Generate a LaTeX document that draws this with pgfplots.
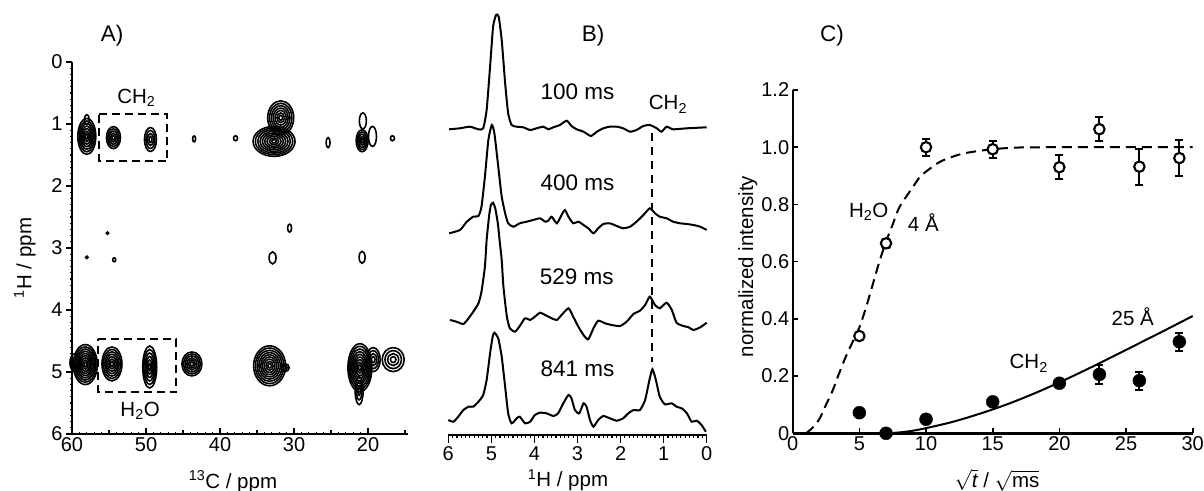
\documentclass[border=0pt]{standalone}
\usepackage{pgfplots}
\pgfplotsset{compat=1.18}
\usepackage{pgfplotstable}
\usepackage{fontspec}
\setmainfont{Liberation Sans}

\newcommand{\fs}{\fontsize{20}{23}\selectfont}
\newcommand{\fa}{\fontsize{20.5}{24}\selectfont}
\newcommand{\fl}{\fontsize{22.5}{26}\selectfont}

% contour-like mark: nested ellipses
\pgfdeclareplotmark{peak}{%
  \pgfmathtruncatemacro\nl{\nlev}%
  \foreach \k in {1,...,\nl}{%
    \pgfmathsetlengthmacro\ax{(1-(\k-1)/\nl)*\rx*1pt}%
    \pgfmathsetlengthmacro\ay{(1-(\k-1)/\nl)*\ry*1pt}%
    \pgfpathellipse{\pgfpointorigin}{\pgfqpoint{\ax}{0pt}}{\pgfqpoint{0pt}{\ay}}%
    \pgfusepath{stroke}%
  }%
}

% Panel A peaks: 13C ppm, 1H ppm, half width (pt), half height (pt), levels
\pgfplotstableread{
c h rx ry n
58.0 1.20 9 18 7
58.0 0.93 2.5 5 1
54.4 1.22 7 11 5
49.4 1.25 6 12 4
43.5 1.24 1.5 3 1
37.9 1.23 2 2.5 1
31.8 0.90 13 17 7
32.7 1.28 21 15 9
25.4 1.30 2 5 1
20.8 1.27 6 11 5
20.7 0.95 3.5 8 1
19.4 1.20 4 10 1
16.7 1.23 2 2.5 1
55.2 2.76 1.2 1.2 1
30.6 2.68 2 4 1
58.0 3.15 1.2 1.2 1
54.3 3.19 1.5 2 1
32.9 3.16 3.5 6 1
20.8 3.15 3 6 1
58.2 4.88 12 20 9
59.6 4.85 5 9 2
54.6 4.87 10 17 7
49.5 4.92 7 21 6
43.8 4.87 10 12 6
33.3 4.90 16 20 9
31.2 4.93 4 4 2
21.1 4.93 12 24 9
19.3 4.80 7 12 4
21.2 5.30 4 14 3
16.6 4.80 11 12 4
}\peaksA

% Panel B traces: 1H ppm, vertical position (px from top)
\pgfplotstableread{
ppm py
5.98 129.3
5.73 128.3
5.50 126.7
5.30 129.3
5.19 128.3
5.11 110.0
5.03 66.7
4.96 26.7
4.89 15.0
4.83 16.7
4.76 40.0
4.68 83.3
4.61 113.3
4.53 125.0
4.41 126.7
4.26 127.3
4.10 130.0
3.95 128.3
3.79 126.7
3.68 129.3
3.56 127.3
3.41 125.0
3.25 120.7
3.14 126.0
3.02 129.3
2.86 131.7
2.69 136.0
2.55 131.7
2.40 128.3
2.25 126.7
2.09 126.7
1.94 128.3
1.78 131.7
1.63 130.0
1.47 126.0
1.32 125.0
1.16 128.3
1.05 131.7
0.93 126.7
0.78 129.3
0.46 128.3
0.00 127.3
}\trA

\pgfplotstableread{
ppm py
5.98 233.3
5.73 230.0
5.57 221.7
5.42 216.7
5.30 216.0
5.23 206.7
5.15 176.7
5.07 140.0
4.99 125.0
4.93 133.3
4.84 166.7
4.76 196.7
4.68 213.3
4.61 223.3
4.49 226.7
4.34 223.3
4.18 221.7
4.03 220.0
3.87 218.3
3.75 221.7
3.68 220.7
3.60 216.7
3.48 223.3
3.37 215.0
3.29 210.0
3.21 216.7
3.10 223.3
2.98 221.7
2.86 225.0
2.75 228.3
2.63 233.3
2.52 228.3
2.40 224.0
2.25 223.3
2.09 226.0
1.94 228.3
1.78 226.7
1.63 221.7
1.47 215.0
1.32 208.3
1.20 213.3
1.09 216.7
0.93 218.3
0.78 221.7
0.62 223.3
0.46 224.0
0.31 225.0
0.15 226.7
0.00 230.0
}\trB

\pgfplotstableread{
ppm py
5.96 320.0
5.81 321.7
5.65 324.0
5.53 318.3
5.42 311.7
5.30 303.3
5.23 291.7
5.15 266.7
5.11 240.0
5.05 215.0
5.01 205.0
4.96 202.7
4.91 208.3
4.85 223.3
4.81 240.0
4.76 260.0
4.72 286.7
4.64 316.7
4.57 328.3
4.45 331.7
4.34 326.0
4.22 318.3
4.10 320.0
3.99 316.7
3.87 312.7
3.75 315.0
3.60 318.3
3.48 320.0
3.37 315.0
3.21 308.3
3.10 316.7
2.98 326.7
2.86 335.0
2.75 339.3
2.63 328.3
2.52 320.7
2.36 323.3
2.21 325.0
2.01 326.0
1.86 321.7
1.70 314.0
1.55 310.7
1.43 305.0
1.32 296.7
1.20 305.0
1.09 308.3
0.93 302.7
0.81 310.0
0.70 322.7
0.54 326.0
0.42 327.3
0.31 330.0
0.15 327.3
0.00 322.7
}\trC

\pgfplotstableread{
ppm py
6.00 420.0
5.88 421.7
5.77 416.7
5.65 410.0
5.53 406.7
5.42 406.7
5.30 401.7
5.19 395.0
5.11 380.0
5.03 353.3
4.97 336.7
4.93 332.7
4.84 338.3
4.76 356.7
4.68 386.7
4.61 413.3
4.53 423.3
4.41 418.3
4.34 416.7
4.22 423.3
4.10 421.7
3.99 415.0
3.87 412.7
3.72 413.3
3.56 416.0
3.45 413.3
3.33 403.3
3.21 395.0
3.14 398.3
3.06 410.0
2.96 413.3
2.86 403.3
2.79 406.7
2.71 420.0
2.63 426.7
2.52 420.0
2.40 416.0
2.25 418.3
2.09 420.7
1.94 418.3
1.82 413.3
1.70 410.0
1.55 410.0
1.43 400.0
1.33 380.0
1.26 369.3
1.18 380.0
1.09 396.7
0.97 404.3
0.81 403.3
0.70 406.7
0.58 408.3
0.46 413.3
0.35 421.7
0.23 420.7
0.12 425.0
0.02 431.7
}\trD

% Panel C data
\pgfplotstableread{
x y e
5 0.340 0
7 0.664 0.015
10 1.000 0.03
15 0.993 0.03
20 0.930 0.042
23 1.063 0.042
26 0.932 0.063
29 0.962 0.062
}\water

\pgfplotstableread{
x y e
5 0.072 0
7 0.000 0
10 0.049 0
15 0.110 0
20 0.175 0
23 0.206 0.032
26 0.184 0.032
29 0.320 0.031
}\chtwo

\begin{document}
\begin{tikzpicture}
\path[use as bounding box] (0pt,0pt) rectangle (1204pt,490pt);

%================ Panel A ================
\begin{axis}[
  at={(72pt,56pt)}, anchor=south west,
  scale only axis, width=336pt, height=372pt,
  xmin=-60, xmax=-14.6, ymin=-6, ymax=0,
  axis x line=bottom, axis y line=left,
  axis line style={-, line width=2.2pt},
  every tick/.style={black, line width=1.2pt},
  xtick={-60,-50,-40,-30,-20}, xticklabels={60,50,40,30,20},
  ytick={-6,-5,-4,-3,-2,-1,0}, yticklabels={6,5,4,3,2,1,0},
  minor x tick num=9, minor y tick num=9,
  xtick align=inside, ytick align=outside,
  major tick length=6pt, minor tick length=2.5pt,
  extra x ticks={-55,-45,-35,-25,-15}, extra x tick labels={},
  extra x tick style={major tick length=4.5pt},
  tick label style={font=\fs},
  clip=true,
]
\addplot[only marks, scatter, mark=peak,
  visualization depends on={\thisrow{rx}\as\rx},
  visualization depends on={\thisrow{ry}\as\ry},
  visualization depends on={\thisrow{n}\as\nlev},
  scatter/@pre marker code/.code={\pgfsetlinewidth{1.6pt}\pgfsetstrokecolor{black}},
  scatter/@post marker code/.code={},
] table[x expr=-\thisrow{c}, y expr=-\thisrow{h}] {\peaksA};
\addplot[line width=2pt, dash pattern=on 8pt off 5pt] coordinates
  {(-56.3,-0.84) (-47.1,-0.84) (-47.1,-1.6) (-56.3,-1.6) (-56.3,-0.84)};
\addplot[line width=2pt, dash pattern=on 8pt off 5pt] coordinates
  {(-56.5,-4.47) (-45.9,-4.47) (-45.9,-5.32) (-56.5,-5.32) (-56.5,-4.47)};
\node[anchor=base, font=\fa] at (axis cs:-51.3,-0.67) {CH\textsubscript{2}};
\node[anchor=base, font=\fa] at (axis cs:-50.8,-5.72) {H\textsubscript{2}O};
\end{axis}

%================ Panel B ================
\begin{axis}[
  at={(448.3pt,55pt)}, anchor=south west,
  scale only axis, width=258.4pt, height=425pt,
  xmin=-6, xmax=0, ymin=-435, ymax=-10,
  axis x line=bottom, axis y line=none,
  axis line style={-, line width=2pt},
  every tick/.style={black, line width=1.2pt},
  xtick={-6,-5,-4,-3,-2,-1,0}, xticklabels={6,5,4,3,2,1,0},
  minor x tick num=9, tick align=outside,
  major tick length=8pt, minor tick length=3pt,
  tick label style={font=\fs},
  clip=false,
]
\addplot[line width=2pt, smooth, tension=0.35] table[x expr=-\thisrow{ppm}, y expr=-\thisrow{py}] {\trA};
\addplot[line width=2pt, smooth, tension=0.35] table[x expr=-\thisrow{ppm}, y expr=-\thisrow{py}] {\trB};
\addplot[line width=2pt, smooth, tension=0.35] table[x expr=-\thisrow{ppm}, y expr=-\thisrow{py}] {\trC};
\addplot[line width=2pt, smooth, tension=0.35] table[x expr=-\thisrow{ppm}, y expr=-\thisrow{py}] {\trD};
\addplot[line width=2pt, dash pattern=on 8pt off 6pt] coordinates {(-1.26,-133) (-1.26,-362)};
\node[anchor=base, font=\fl] at (axis cs:-3.0,-100) {100 ms};
\node[anchor=base, font=\fl] at (axis cs:-3.0,-190.7) {400 ms};
\node[anchor=base, font=\fl] at (axis cs:-3.02,-284.3) {529 ms};
\node[anchor=base, font=\fl] at (axis cs:-3.0,-376.7) {841 ms};
\node[anchor=base, font=\fa] at (axis cs:-0.9,-110) {CH\textsubscript{2}};
\end{axis}

%================ Panel C ================
\begin{axis}[
  at={(792.7pt,56.7pt)}, anchor=south west,
  scale only axis, width=400pt, height=343.3pt,
  xmin=0, xmax=30, ymin=0, ymax=1.2,
  axis x line=bottom, axis y line=left,
  axis line style={-, line width=2.4pt},
  every tick/.style={black, line width=1.6pt},
  tick align=inside, major tick length=5pt,
  xtick={0,5,10,15,20,25,30}, xticklabels={0,5,10,15,20,25,30},
  ytick={0,0.2,0.4,0.6,0.8,1.0,1.2}, yticklabels={0,0.2,0.4,0.6,0.8,1.0,1.2},
  tick label style={font=\fs},
  clip=false,
]
\addplot[line width=2pt, dash pattern=on 10pt off 6pt, smooth] coordinates {
 (1,0) (1.5,0.02) (2,0.05) (2.5,0.1) (3,0.15) (3.4,0.2) (4,0.27) (4.5,0.32)
 (5,0.37) (5.5,0.44) (6,0.52) (6.5,0.6) (7,0.67) (7.5,0.73) (8,0.79) (9,0.86)
 (9.6,0.9) (10,0.915) (11,0.948) (12,0.967) (13,0.98) (15,0.993) (17,0.999) (20,1.0) (25,1.0) (30,1.0)};
\addplot[line width=2pt, smooth] coordinates {
 (7,0) (8,0.003) (9,0.009) (10,0.018) (12,0.04) (14,0.068) (16,0.1) (18,0.137)
 (20,0.178) (22,0.222) (24,0.268) (26,0.315) (28,0.362) (30,0.41)};
\addplot[only marks, mark=*, mark size=5.2pt,
  mark options={fill=white, draw=black, line width=2.1pt},
  error bars/.cd, y dir=both, y explicit,
  error bar style={line width=2pt, black},
  error mark options={rotate=90, mark size=4pt, line width=2pt, black},
] table[x=x, y=y, y error=e] {\water};
\addplot[only marks, mark=*, mark size=6.5pt,
  mark options={fill=black, draw=black},
  error bars/.cd, y dir=both, y explicit,
  error bar style={line width=2pt, black},
  error mark options={rotate=90, mark size=4pt, line width=2pt, black},
] table[x=x, y=y, y error=e] {\chtwo};
\node[anchor=base, font=\fa] at (axis cs:5.7,0.754) {H\textsubscript{2}O};
\node[anchor=base, font=\fa] at (axis cs:9.8,0.705) {4 Å};
\node[anchor=base, font=\fa] at (axis cs:25.5,0.376) {25 Å};
\node[anchor=base, font=\fa] at (axis cs:17.7,0.225) {CH\textsubscript{2}};
\end{axis}

%================ labels ================
\node[anchor=base, font=\fl, inner sep=0pt] at (112pt,448.3pt) {A)};
\node[anchor=base, font=\fl, inner sep=0pt] at (593pt,448.3pt) {B)};
\node[anchor=base, font=\fl, inner sep=0pt] at (832pt,448.3pt) {C)};
\node[anchor=base, font=\fa, inner sep=0pt] at (233pt,2pt) {\textsuperscript{13}C / ppm};
\node[anchor=base, font=\fa, inner sep=0pt] at (568pt,3.3pt) {\textsuperscript{1}H / ppm};
\node[anchor=base, font=\fa, inner sep=0pt] at (997pt,2.5pt) {$\sqrt{\mbox{\itshape t}}$ / $\sqrt{\mbox{ms}}$};
\node[anchor=base, font=\fa, rotate=90, inner sep=0pt] at (31.5pt,232pt) {\textsuperscript{1}H / ppm};
\node[anchor=base, font=\fa, rotate=90, inner sep=0pt] at (753pt,223.5pt) {normalized intensity};
\end{tikzpicture}
\end{document}
